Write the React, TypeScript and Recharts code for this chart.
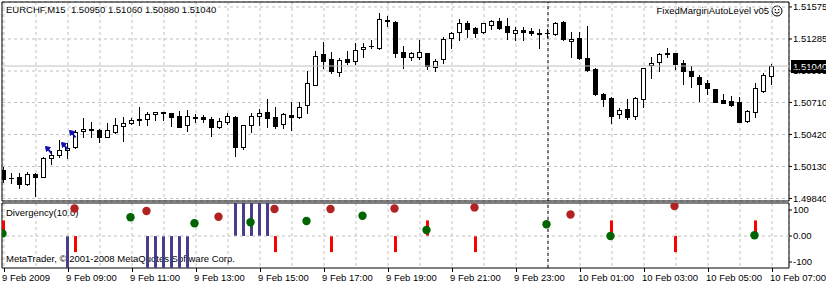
import React from "react";
import {
  ComposedChart,
  Bar,
  Scatter,
  XAxis,
  YAxis,
  CartesianGrid,
  ReferenceLine,
  ReferenceArea,
} from "recharts";

const FONT = "'Liberation Sans', Arial, sans-serif";
const FS = 9.5;

// EURCHF M15, bars from 9 Feb 2009 07:00 to 10 Feb 2009 07:00
const opens = [
  1.50098, 1.50022, 1.50031, 1.49968, 1.50062, 1.50031, 1.50204, 1.50234, 1.50276, 1.50303,
  1.50448, 1.50472, 1.5046, 1.50394, 1.50445, 1.505, 1.50521, 1.5056, 1.50557, 1.50605,
  1.5062, 1.50611, 1.50587, 1.50502, 1.50578, 1.50575, 1.50563, 1.5049, 1.50536, 1.50575,
  1.50303, 1.50506, 1.5059, 1.5062, 1.50575, 1.50515, 1.50593, 1.50581, 1.50684, 1.50868,
  1.51149, 1.511, 1.50983, 1.511, 1.51088, 1.51191, 1.51221, 1.51206, 1.51457, 1.51442,
  1.51164, 1.51119, 1.51125, 1.51155, 1.51034, 1.511, 1.51291, 1.51345, 1.51433, 1.51381,
  1.51345, 1.51412, 1.51448, 1.51402, 1.51336, 1.51366, 1.51357, 1.51339, 1.51342, 1.51327,
  1.51442, 1.51267, 1.51291, 1.5111, 1.51013, 1.50783, 1.50753, 1.50605, 1.5065, 1.5059,
  1.50741, 1.51046, 1.51076, 1.51161, 1.51155, 1.51064, 1.50998, 1.50937, 1.50883, 1.50829,
  1.50732, 1.50723, 1.50711, 1.50545, 1.5062, 1.50817, 1.5095,
];
const highs = [
  1.50128, 1.50068, 1.50074, 1.50077, 1.50068, 1.50219, 1.50273, 1.5037, 1.50339, 1.5046,
  1.50569, 1.5053, 1.50466, 1.50521, 1.50566, 1.50575, 1.50566, 1.50666, 1.50626, 1.50626,
  1.50626, 1.50617, 1.50632, 1.50641, 1.50605, 1.50596, 1.50581, 1.50566, 1.50611, 1.50587,
  1.50506, 1.50611, 1.50647, 1.50741, 1.50672, 1.50617, 1.50711, 1.50711, 1.50995, 1.51176,
  1.51254, 1.51164, 1.5111, 1.51176, 1.51245, 1.51245, 1.51276, 1.51517, 1.51493, 1.51451,
  1.51221, 1.5117, 1.51276, 1.51161, 1.511, 1.51306, 1.51345, 1.51466, 1.51451, 1.51396,
  1.51427, 1.51457, 1.51472, 1.51478, 1.51396, 1.51396, 1.51381, 1.51372, 1.51372, 1.51442,
  1.51451, 1.51345, 1.51351, 1.51405, 1.51019, 1.50792, 1.50762, 1.50656, 1.50741, 1.50756,
  1.51019, 1.51119, 1.51161, 1.51206, 1.51161, 1.51094, 1.51043, 1.50959, 1.50913, 1.50835,
  1.50783, 1.50768, 1.50762, 1.50641, 1.50889, 1.50974, 1.5106,
];
const lows = [
  1.49992, 1.49977, 1.49938, 1.49962, 1.49862, 1.50031, 1.50152, 1.50219, 1.50204, 1.50294,
  1.504, 1.504, 1.50355, 1.50394, 1.50436, 1.50364, 1.50515, 1.50506, 1.50506, 1.50551,
  1.50551, 1.50496, 1.5049, 1.50454, 1.50536, 1.50536, 1.50409, 1.50475, 1.50515, 1.50228,
  1.50285, 1.50445, 1.50506, 1.50484, 1.50475, 1.50481, 1.5046, 1.50566, 1.50617, 1.50868,
  1.51019, 1.50974, 1.50952, 1.51058, 1.51058, 1.51119, 1.512, 1.51191, 1.51402, 1.51125,
  1.51025, 1.51094, 1.51106, 1.51016, 1.50998, 1.51064, 1.51206, 1.51276, 1.51306, 1.513,
  1.51336, 1.51372, 1.51372, 1.51282, 1.51276, 1.51276, 1.51321, 1.512, 1.51306, 1.51321,
  1.51276, 1.51125, 1.511, 1.50995, 1.50777, 1.50681, 1.50527, 1.50566, 1.50557, 1.5056,
  1.50672, 1.50928, 1.50998, 1.51125, 1.5101, 1.50877, 1.50847, 1.50726, 1.50783, 1.50711,
  1.50702, 1.50681, 1.50536, 1.50536, 1.50581, 1.50808, 1.5088,
];
const closes = [
  1.50016, 1.50022, 1.49968, 1.50062, 1.50037, 1.50204, 1.50234, 1.50279, 1.50297, 1.50445,
  1.50469, 1.5046, 1.50394, 1.5046, 1.50506, 1.50521, 1.50551, 1.50551, 1.50602, 1.5062,
  1.50611, 1.50581, 1.5049, 1.50587, 1.50566, 1.50557, 1.5049, 1.50542, 1.50587, 1.50303,
  1.50506, 1.50587, 1.50611, 1.50566, 1.505, 1.50602, 1.50575, 1.50672, 1.50883, 1.51131,
  1.51088, 1.50998, 1.51094, 1.51076, 1.51185, 1.51209, 1.51221, 1.51463, 1.51445, 1.51155,
  1.51125, 1.51155, 1.51164, 1.51043, 1.51088, 1.51282, 1.51336, 1.51427, 1.51372, 1.51336,
  1.51427, 1.51451, 1.51381, 1.51345, 1.51363, 1.51351, 1.51336, 1.51327, 1.51342, 1.51433,
  1.51282, 1.51285, 1.5111, 1.51004, 1.50783, 1.50738, 1.5059, 1.50641, 1.50581, 1.50747,
  1.51019, 1.51064, 1.51146, 1.51149, 1.51058, 1.50998, 1.50952, 1.50874, 1.50838, 1.50717,
  1.50708, 1.50687, 1.50536, 1.50632, 1.50838, 1.50959, 1.5104,
];

const timeLabels = [
  "9 Feb 2009", "9 Feb 09:00", "9 Feb 11:00", "9 Feb 13:00", "9 Feb 15:00", "9 Feb 17:00",
  "9 Feb 19:00", "9 Feb 21:00", "9 Feb 23:00", "10 Feb 01:00", "10 Feb 03:00",
  "10 Feb 05:00", "10 Feb 07:00",
];
const priceTicks = [1.51575, 1.51285, 1.50995, 1.5071, 1.5042, 1.5013, 1.4984];
const divTicks = [100, 0, -100];
const daySeparator = 68; // 10 Feb 00:00

// blue trade arrows
const arrowBars = [6, 8, 9];
const arrowPrices = [1.50279, 1.50318, 1.50424];

// Divergency(10.0)
const signalBars = [8, 18, 19, 20, 21, 22, 23, 29, 30, 31, 32, 33];
const signalValues = [-123, -123, -123, -123, -123, -123, -123, 127, 127, 127, 127, 127];
const histBars = [0, 9, 34, 41, 49, 53, 59, 76, 84, 94];
const histValues = [60, -62, -62, -62, -62, 60, -62, 60, -62, 60];
const bearBars = [9, 18, 27, 34, 41, 49, 59, 71, 84];
const bearValues = [106, 96, 74, 104, 104, 106, 110, 83, 115];
const bullBars = [0, 16, 24, 31, 38, 45, 53, 68, 76, 94];
const bullValues = [10, 72, 49, 53, 58, 78, 23, 45, 0, 3];

const X_DOMAIN = [-0.25, 98.125];
const PRICE_DOMAIN = [1.49817, 1.5162];
const DIV_DOMAIN = [-123, 127];
const hourTicks = Array.from({ length: 25 }, (_, k) => k * 4);

const candles = opens.map((o, i) => ({
  i,
  open: o,
  high: highs[i],
  low: lows[i],
  close: closes[i],
  range: [lows[i], highs[i]],
}));
const arrows = arrowBars.map((i, k) => ({ i, p: arrowPrices[k] }));

const divRows = opens.map((_, i) => {
  const s = signalBars.indexOf(i);
  const h = histBars.indexOf(i);
  return {
    i,
    signal: s >= 0 ? signalValues[s] : 0,
    hist: h >= 0 ? histValues[h] : 0,
  };
});
const bearDots = bearBars.map((i, k) => ({ i, v: bearValues[k] }));
const bullDots = bullBars.map((i, k) => ({ i, v: bullValues[k] }));

const Candle = (props: any) => {
  const { x, y, width, height, payload } = props;
  if (!payload || !isFinite(y) || !isFinite(height)) return null;
  const { open, high, low, close } = payload;
  const top = Math.min(y, y + height);
  const bot = Math.max(y, y + height);
  const k = high > low ? (bot - top) / (high - low) : 0;
  const py = (v: number) => Math.round(top + (high - v) * k);
  const c = Math.floor(x + width / 2);
  const yo = py(open);
  const yc = py(close);
  const bTop = Math.min(yo, yc);
  const bBot = Math.max(yo, yc);
  let body;
  if (bBot - bTop < 1) {
    body = <line x1={c - 2} x2={c + 3} y1={yo + 0.5} y2={yo + 0.5} stroke="#000" />;
  } else if (close >= open) {
    body = (
      <rect x={c - 1.5} y={bTop + 0.5} width={4} height={bBot - bTop} fill="#fff" stroke="#000" />
    );
  } else {
    body = <rect x={c - 2} y={bTop} width={5} height={bBot - bTop + 1} fill="#000" />;
  }
  return (
    <g>
      <line x1={c + 0.5} x2={c + 0.5} y1={Math.round(top)} y2={Math.round(bot) + 1} stroke="#000" />
      {body}
    </g>
  );
};

const Arrow = (props: any) => {
  const { cx, cy } = props;
  const x = Math.round(cx) - 3;
  const y = Math.round(cy);
  return (
    <g fill="#1010b0" stroke="#1010b0">
      <path d={`M${x - 3.5},${y - 3.5} L${x + 1.5},${y - 2.5} L${x - 2.5},${y + 1.5} Z`} />
      <line x1={x - 1} y1={y - 1} x2={x + 2.5} y2={y + 3.5} strokeWidth={2} />
    </g>
  );
};

const dot = (color: string) => (props: any) => (
  <circle cx={props.cx - 1.5} cy={props.cy} r={4.2} fill={color} />
);

const PriceTag = (props: any) => {
  const vb = props.viewBox || {};
  const x = vb.x + vb.width + 2;
  const y = Math.round(vb.y);
  return (
    <g>
      <rect x={x} y={y - 6} width={40} height={13} fill="#000" />
      <text x={x + 2} y={y + 4} fill="#fff" fontSize={FS} fontFamily={FONT}>
        {closes[closes.length - 1].toFixed(5)}
      </text>
    </g>
  );
};

const TimeTick = (props: any) => {
  const { x, y, payload } = props;
  const v = payload.value;
  if (v % 8 !== 0) return null;
  const label = timeLabels[v / 8];
  return (
    <g>
      <line x1={x + 0.5} x2={x + 0.5} y1={y - 4} y2={y} stroke="#000" />
      <text x={x - 2} y={y + 8.5} fontSize={FS} fontFamily={FONT} fill="#000">
        {label}
      </text>
    </g>
  );
};

const axisTick = { fill: "#000", fontSize: FS, fontFamily: FONT };
const textStyle: React.CSSProperties = {
  position: "absolute",
  fontFamily: FONT,
  fontSize: FS,
  lineHeight: "14px",
  color: "#000",
  whiteSpace: "pre",
};

export default function App() {
  const last = opens.length - 1;
  const header = `EURCHF,M15  ${opens[last].toFixed(5)} ${highs[last].toFixed(5)} ${lows[last].toFixed(5)} ${closes[last].toFixed(5)}`;
  return (
    <div
      style={{
        position: "absolute",
        left: 0,
        top: 0,
        width: 826,
        height: 285,
        background: "#fff",
        overflow: "hidden",
      }}
    >
      <div style={{ ...textStyle, left: 6, top: 3 }}>{header}</div>
      <div style={{ ...textStyle, right: 57, top: 4 }}>FixedMarginAutoLevel v05</div>
      <svg style={{ position: "absolute", left: 771, top: 5 }} width={12} height={12}>
        <circle cx={6} cy={6} r={5} fill="none" stroke="#000" />
        <circle cx={4.3} cy={4.8} r={0.8} fill="#000" />
        <circle cx={7.7} cy={4.8} r={0.8} fill="#000" />
        <path d="M3.5,7 Q6,9.5 8.5,7" fill="none" stroke="#000" />
      </svg>
      <div style={{ ...textStyle, left: 6, top: 206 }}>Divergency(10.0)</div>
      <div style={{ ...textStyle, left: 6, top: 252 }}>
        MetaTrader, © 2001-2008 MetaQuotes Software Corp.
      </div>

      <div style={{ position: "absolute", left: 0, top: 0 }}>
        <ComposedChart
          width={826}
          height={205}
          data={candles}
          margin={{ top: 2, right: 0, bottom: 4, left: 2 }}
        >
          <CartesianGrid stroke="#c0c0c0" strokeDasharray="3 3" />
          <XAxis
            type="number"
            dataKey="i"
            domain={X_DOMAIN}
            allowDataOverflow
            ticks={hourTicks}
            hide
          />
          <YAxis
            orientation="right"
            type="number"
            domain={PRICE_DOMAIN}
            allowDataOverflow
            ticks={priceTicks}
            interval={0}
            width={37}
            tickSize={3}
            tickMargin={1}
            axisLine={false}
            tickLine={{ stroke: "#000" }}
            tick={axisTick}
            tickFormatter={(v: number) => v.toFixed(5)}
          />
          <ReferenceLine x={daySeparator} stroke="#000" strokeDasharray="3 3" />
          <Bar
            dataKey="range"
            barSize={7}
            shape={Candle}
            isAnimationActive={false}
          />
          <Scatter data={arrows} dataKey="p" shape={Arrow} isAnimationActive={false} />
          <ReferenceArea
            x1={X_DOMAIN[0]}
            x2={X_DOMAIN[1]}
            y1={PRICE_DOMAIN[0]}
            y2={PRICE_DOMAIN[1]}
            fill="none"
            stroke="#000"
          />
          <ReferenceLine
            y={closes[last]}
            stroke="#c0c0c0"
            label={(p: any) => <PriceTag {...p} />}
          />
        </ComposedChart>
      </div>

      <div style={{ position: "absolute", left: 0, top: 201 }}>
        <ComposedChart
          width={826}
          height={84}
          data={divRows}
          stackOffset="sign"
          margin={{ top: 2, right: 0, bottom: 0, left: 2 }}
        >
          <CartesianGrid stroke="#c0c0c0" strokeDasharray="3 3" horizontal={false} />
          <XAxis
            type="number"
            dataKey="i"
            domain={X_DOMAIN}
            allowDataOverflow
            ticks={hourTicks}
            interval={0}
            height={17}
            tickSize={4}
            tickMargin={0}
            axisLine={false}
            tickLine={false}
            tick={<TimeTick />}
          />
          <YAxis
            orientation="right"
            type="number"
            domain={DIV_DOMAIN}
            allowDataOverflow
            ticks={divTicks}
            interval={0}
            width={37}
            tickSize={3}
            tickMargin={1}
            axisLine={false}
            tickLine={{ stroke: "#000" }}
            tick={axisTick}
            tickFormatter={(v: number) => (v === 0 ? "0.00" : String(v))}
          />
          <ReferenceLine y={0} stroke="#c0c0c0" strokeDasharray="3 3" />
          <ReferenceLine x={daySeparator} stroke="#000" strokeDasharray="3 3" />
          <Bar dataKey="signal" stackId="d" barSize={3} fill="#483d8b" isAnimationActive={false} />
          <Bar dataKey="hist" stackId="d" barSize={3} fill="#ff0000" isAnimationActive={false} />
          <Scatter data={bearDots} dataKey="v" shape={dot("#b22222")} isAnimationActive={false} />
          <Scatter data={bullDots} dataKey="v" shape={dot("#006400")} isAnimationActive={false} />
          <ReferenceArea
            x1={X_DOMAIN[0]}
            x2={X_DOMAIN[1]}
            y1={DIV_DOMAIN[0]}
            y2={DIV_DOMAIN[1]}
            fill="none"
            stroke="#000"
          />
        </ComposedChart>
      </div>
    </div>
  );
}
